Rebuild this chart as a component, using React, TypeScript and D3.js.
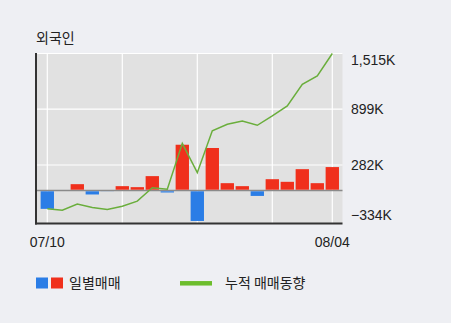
import React from "react";
import * as d3 from "d3";

const dates = ["07/10","07/11","07/12","07/13","07/14","07/17","07/18","07/19","07/20","07/21","07/24","07/25","07/26","07/27","07/28","07/31","08/01","08/02","08/03","08/04"];
const daily = [-203, -8, 70, -44, -10, 48, 37, 159, -22, 506, -337, 470, 81, 48, -60, 125, 96, 236, 81, 259];
const cumulative = [-203, -218, -150, -187, -210, -174, -118, 30, 14, 521, 197, 660, 733, 768, 721, 825, 935, 1175, 1267, 1515];
const yTicks = [-334, 282, 899, 1515];
const xTickIdx = [0, 5, 10, 15, 19];
const xLabelIdx = [0, 19];

const W = 451, H = 323;
const FONT = "'Liberation Sans', Arial, 'Noto Sans CJK KR', sans-serif";
const KFONT = "'Noto Sans CJK KR', sans-serif";

export default function App() {
  const plotL = 37, plotR = 342.5, plotT = 53, plotB = 223.5;
  const x = d3.scaleBand<number>().domain(d3.range(dates.length)).range([39.8, 339.8]).paddingInner(0.11).paddingOuter(0.055);
  const y = d3.scaleLinear().domain([-334, 1515]).range([220.7, 53.5]);
  const cx = (i: number) => (x(i) as number) + x.bandwidth() / 2;
  const line = d3.line<number>().x((_, i) => cx(i)).y((d) => y(d));
  const fmt = d3.format(",");
  return (
    <svg width={W} height={H} style={{ position: "absolute", left: 0, top: 0, background: "#eeeff3" }}>
      <rect x={0} y={0} width={W} height={H} fill="#eeeff3" />
      <text x={36} y={43} fontSize={14} fontFamily={KFONT} fill="#222">외국인</text>
      <rect x={plotL} y={plotT} width={plotR - plotL} height={plotB - plotT} fill="#e1e1e1" />
      {yTicks.slice(1).map((t) => (
        <line key={t} x1={plotL} x2={plotR} y1={y(t)} y2={y(t)} stroke="#fff" strokeWidth={1.2} />
      ))}
      {xTickIdx.map((i) => (
        <line key={i} x1={cx(i)} x2={cx(i)} y1={plotT} y2={plotB} stroke="#fff" strokeWidth={1.2} />
      ))}
      <line x1={plotL} x2={plotR} y1={y(0)} y2={y(0)} stroke="#8a8a8a" strokeWidth={1.6} />
      {daily.map((v, i) => (
        <rect key={i} x={x(i)} width={x.bandwidth()} y={v >= 0 ? y(v) : y(0) + 0.8} height={Math.max(0, Math.abs(y(v) - y(0)) - (v >= 0 ? 0.8 : 0.8))}
          fill={v >= 0 ? "#f0301c" : "#2a7de6"} />
      ))}
      <path d={line(cumulative) || ""} fill="none" stroke="#6aae3c" strokeWidth={1.5} />
      <line x1={36} x2={36} y1={plotT} y2={plotB + 1} stroke="#333" strokeWidth={2} />
      <line x1={35} x2={plotR} y1={plotB} y2={plotB} stroke="#333" strokeWidth={2} />
      {yTicks.map((t, i) => (
        <text key={t} x={351} y={i === 3 ? 65 : i === 0 ? 220 : y(t) + 5} fontSize={14} fontFamily={FONT} fill="#222">
          {(t < 0 ? "−" + fmt(-t) : fmt(t)) + "K"}
        </text>
      ))}
      {xLabelIdx.map((i) => (
        <text key={i} x={cx(i)} y={246.5} fontSize={14} textAnchor="middle" fontFamily={FONT} fill="#222">{dates[i]}</text>
      ))}
      <rect x={36} y={277.5} width={12} height={11} fill="#2a7de6" />
      <rect x={51} y={277.5} width={12} height={11} fill="#f0301c" />
      <text x={69} y={288} fontSize={14} fontFamily={KFONT} fill="#222">일별매매</text>
      <line x1={180} x2={212} y1={283.3} y2={283.3} stroke="#6cbd2c" strokeWidth={4.5} />
      <text x={225} y={288} fontSize={14} fontFamily={KFONT} fill="#222">누적 매매동향</text>
    </svg>
  );
}
